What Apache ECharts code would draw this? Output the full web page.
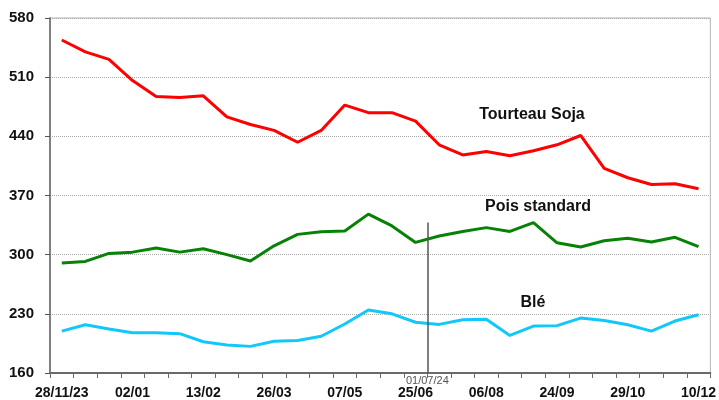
<!DOCTYPE html>
<html>
<head>
<meta charset="utf-8">
<script src="https://cdn.jsdelivr.net/npm/echarts@6/dist/echarts.min.js"></script>
<style>
html,body{margin:0;padding:0;background:#fff;}
#chart{width:719px;height:400px;}
</style>
</head>
<body>
<div id="chart"></div>
<script>
var categories = ['28/11/23','12/12','19/12','02/01','16/01','30/01','13/02','27/02','12/03','26/03','09/04','23/04','07/05','21/05','11/06','25/06','09/07','23/07','06/08','27/08','10/09','24/09','08/10','15/10','29/10','12/11','26/11','10/12'];
var tourteauSoja = [554, 540, 531, 506, 487, 486, 488, 463, 454, 447, 433, 447, 477, 468, 468, 458, 430, 418, 422, 417, 423, 430, 441, 402, 391, 383, 384, 378];
var poisStandard = [290, 292, 301.5, 303, 308, 303, 307, 300, 292.5, 310.5, 324, 327, 328, 348, 334, 314.5, 322, 327.5, 332, 327.5, 338, 314, 309, 316.5, 319.5, 315, 320.5, 309.5];
var ble = [209.5, 217, 212, 207.5, 207.5, 206.5, 197, 193, 191.5, 197.5, 198.5, 203.5, 218, 234.5, 230, 220, 217.5, 223, 223.5, 204.5, 215.5, 216, 225, 222, 217, 209.5, 221.5, 229];
var yTicks = [160, 230, 300, 370, 440, 510, 580];
var markerLabel = '01/07/24';
var markerBoundary = 16;   // boundary between 25/06 and 09/07 entries
var markerTop = 338;

var FONT = '"Liberation Sans", Arial, sans-serif';
var chart = echarts.init(document.getElementById('chart'));
chart.setOption({
  animation: false,
  backgroundColor: '#fff',
  grid: {left: 50, right: 5, top: 18, bottom: 26, show: true, borderColor: '#b4b4b4', borderWidth: 1, backgroundColor: 'transparent'},
  xAxis: [{
    type: 'category',
    data: categories,
    boundaryGap: true,
    axisLine: {lineStyle: {color: '#6a6a6a', width: 2}},
    axisTick: {show: true, interval: 0, length: 5, lineStyle: {color: '#6a6a6a', width: 1}},
    axisLabel: {interval: 2, color: '#111', fontWeight: 'bold', fontSize: 14, fontFamily: FONT, margin: 13},
    splitLine: {show: false}
  }, {
    type: 'value', min: 0, max: categories.length, show: false
  }],
  yAxis: {
    type: 'value',
    min: yTicks[0], max: yTicks[yTicks.length - 1], interval: yTicks[1] - yTicks[0],
    axisLine: {show: true, lineStyle: {color: '#808080', width: 2}},
    axisTick: {show: true, length: 5, lineStyle: {color: '#555'}},
    axisLabel: {color: '#111', fontWeight: 'bold', fontSize: 15, fontFamily: FONT, margin: 16},
    splitLine: {show: true, lineStyle: {color: '#a8a8a8', type: 'dotted', width: 1}}
  },
  series: [
    {name: 'Tourteau Soja', type: 'line', data: tourteauSoja, symbol: 'none', lineStyle: {color: '#ff0000', width: 3}, itemStyle: {color: '#ff0000'}},
    {name: 'Pois standard', type: 'line', data: poisStandard, symbol: 'none', lineStyle: {color: '#078207', width: 3}, itemStyle: {color: '#078207'}},
    {name: 'Blé', type: 'line', data: ble, symbol: 'none', lineStyle: {color: '#12c8fa', width: 3}, itemStyle: {color: '#12c8fa'}},
    {
      type: 'line', xAxisIndex: 1, data: [[markerBoundary, yTicks[0]]], symbol: 'none', lineStyle: {opacity: 0},
      markLine: {
        silent: true, symbol: ['none', 'none'],
        lineStyle: {color: '#555', width: 1.5, type: 'solid'},
        label: {show: true, position: 'start', formatter: markerLabel, color: '#555', fontSize: 11, fontFamily: FONT, distance: 2},
        data: [[{coord: [markerBoundary, yTicks[0]]}, {coord: [markerBoundary, markerTop]}]]
      }
    }
  ],
  graphic: [
    {type: 'text', style: {text: 'Tourteau Soja', x: 532, y: 115, align: 'center', verticalAlign: 'middle', font: 'bold 16px ' + FONT, fill: '#111'}},
    {type: 'text', style: {text: 'Pois standard', x: 538, y: 207, align: 'center', verticalAlign: 'middle', font: 'bold 16px ' + FONT, fill: '#111'}},
    {type: 'text', style: {text: 'Blé', x: 533, y: 303, align: 'center', verticalAlign: 'middle', font: 'bold 16px ' + FONT, fill: '#111'}}
  ]
});
</script>
</body>
</html>
